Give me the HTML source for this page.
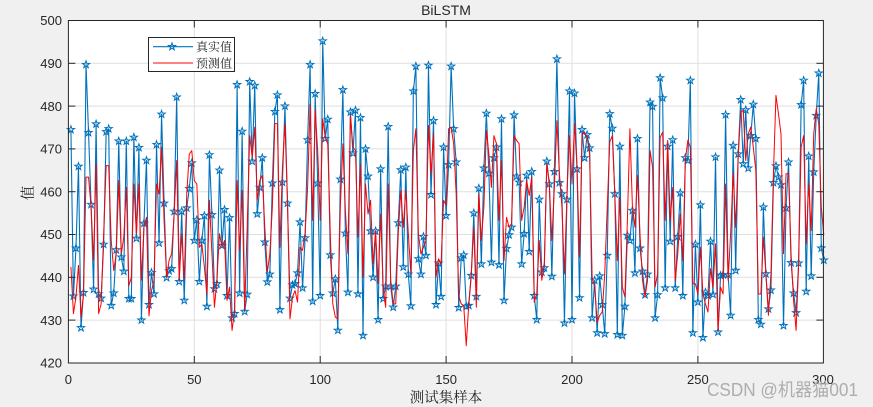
<!DOCTYPE html>
<html><head><meta charset="utf-8"><style>
html,body{margin:0;padding:0;background:#f0f0f0;}
svg{display:block;}
text{font-family:"Liberation Sans","Noto Sans CJK SC",sans-serif;fill:#262626;}
.cj{font-family:"Liberation Serif","Noto Serif CJK SC",serif;}
</style></head><body>
<svg id="s" width="873" height="407" viewBox="0 0 873 407" xmlns="http://www.w3.org/2000/svg">
<rect x="0" y="0" width="873" height="407" fill="#f0f0f0"/>
<rect x="68.4" y="20.5" width="755" height="342.5" fill="#ffffff"/>
<g stroke="#dfdfdf" stroke-width="1">
<line x1="194.3" y1="20.5" x2="194.3" y2="363"/>
<line x1="320.2" y1="20.5" x2="320.2" y2="363"/>
<line x1="446.1" y1="20.5" x2="446.1" y2="363"/>
<line x1="572" y1="20.5" x2="572" y2="363"/>
<line x1="697.9" y1="20.5" x2="697.9" y2="363"/>
<line x1="68.4" y1="63.3" x2="823.4" y2="63.3"/>
<line x1="68.4" y1="106.1" x2="823.4" y2="106.1"/>
<line x1="68.4" y1="148.9" x2="823.4" y2="148.9"/>
<line x1="68.4" y1="191.7" x2="823.4" y2="191.7"/>
<line x1="68.4" y1="234.5" x2="823.4" y2="234.5"/>
<line x1="68.4" y1="277.3" x2="823.4" y2="277.3"/>
<line x1="68.4" y1="320.1" x2="823.4" y2="320.1"/>
</g>
<g transform="matrix(2.518 0 0 -4.28 68.4 2160.5)">
<polyline id="tl" fill="none" stroke="#0072bd" stroke-width="1.1" vector-effect="non-scaling-stroke" stroke-linejoin="round" points="1,474.5 2,435.6 3,446.8 4,465.9 5,428.2 6,436.4 7,489.7 8,473.8 9,457 10,437.2 11,475.8 12,436.1 13,435.1 14,447.7 15,474 16,474.7 17,433.4 18,436.3 19,446.4 20,471.8 21,444.7 22,441.4 23,471.8 24,435 25,435 26,472.7 27,449.1 28,470.3 29,430 30,452.6 31,467.3 32,433.6 33,441.1 34,436.1 35,471 36,448 37,478.1 38,457.3 39,439.9 40,441.5 41,442 42,455.4 43,482.1 44,439 45,455.4 46,434.6 47,456.2 48,460.7 49,466.7 50,448.6 51,453.4 52,439 53,448.6 54,454.4 55,433.2 56,468.6 57,454.6 58,437.3 59,438.5 60,465 61,447.4 62,455.8 63,435.7 64,453.9 65,430.5 66,431.5 67,485 68,436.3 69,474.1 70,432 71,436 72,485.7 73,467.1 74,484.8 75,454.8 76,461 77,467.9 78,448.2 79,438.9 80,440.7 81,462 82,478.7 83,482.6 84,432.4 85,462.2 86,480 87,457.3 88,435.1 89,438.2 90,438.5 91,441 92,452.9 93,437.5 94,449.2 95,472.1 96,489.7 97,434.4 98,482.9 99,462 100,435.7 101,495.2 102,472.4 103,476.9 104,445.2 105,436.3 106,439.6 107,427.6 108,462.9 109,483.8 110,450.3 111,436.5 112,478.6 113,469 114,479 115,436.1 116,477.3 117,426.4 118,470 119,463.6 120,450.8 121,440 122,450.8 123,430.1 124,465.3 125,435 126,437.9 127,475.2 128,437.9 129,433 130,437.9 131,452.7 132,465.1 133,442.4 134,465.7 135,440.7 136,433.3 137,483.5 138,489.3 139,444.3 140,440.7 141,449.5 142,445.1 143,489.5 144,459.3 145,476.6 146,433.6 147,443.3 148,435.5 149,470.4 150,454.4 151,466.3 152,489.3 153,474.7 154,466.9 155,432.9 156,444.5 157,445.2 158,433.2 159,433.4 160,440.4 161,455 162,435.5 163,460.8 164,443.1 165,465.5 166,478.3 167,464.3 168,443.5 169,467.9 170,470.4 171,442.9 172,477 173,434.6 174,446.7 175,449.9 176,451.7 177,477.9 178,463.6 179,462.2 180,443.1 181,450.2 182,463.8 183,446 184,464.7 185,435.7 186,430.1 187,458.2 188,441.2 189,442.2 190,467.1 191,461.8 192,440.2 193,464.7 194,491 195,462.1 196,459.5 197,429.3 198,458.2 199,483.5 200,430.1 201,483 202,465.3 203,435.2 204,474.5 205,467.9 206,473.3 207,470.2 208,430.5 209,439.3 210,427 211,440.3 212,433.6 213,426.8 214,445.1 215,478.2 216,474.8 217,459.5 218,426.6 219,470.6 220,426.4 221,433.2 222,449.8 223,448.6 224,455.6 225,441 226,472.4 227,446.8 228,441.4 229,435.9 230,440.7 231,480.9 232,479.9 233,430.5 234,435.9 235,486.6 236,481.9 237,437.5 238,470.6 239,448.4 240,472.1 241,437.5 242,449.5 243,459.7 244,435.7 245,467.9 246,467.3 247,486 248,427 249,447.7 250,434.2 251,456.9 252,425.9 253,436.5 254,435.7 255,448.4 256,436 257,468.1 258,427.2 259,440.4 260,440.6 261,478 262,440.6 263,431.1 264,470.8 265,441.6 266,468.8 267,481.5 268,466.5 269,479.1 270,465.5 271,473.1 272,480.4 273,472.4 274,430.1 275,429 276,456.4 277,440.8 278,432.6 279,437 280,462.1 281,466 282,463.4 283,461.6 284,428.7 285,456.2 286,466.9 287,443.4 288,436.3 289,431.7 290,443.3 291,480.3 292,486 293,436.7 294,468.3 295,440.3 296,464.6 297,477.8 298,487.7 299,446.8 300,444"/>
</g>
<g id="mk" fill="none" stroke="#0072bd" stroke-width="1"></g>
<g transform="matrix(2.518 0 0 -4.28 68.4 2160.5)">
<polyline fill="none" stroke="#ff0000" stroke-width="1" vector-effect="non-scaling-stroke" stroke-linejoin="round" points="1,442.4 2,431.5 3,435.4 4,442.8 5,430.7 6,436 7,463.4 8,463.4 9,456.4 10,444 11,466.5 12,431.5 13,433.8 14,450 15,466.1 16,466.1 17,448.6 18,441.6 19,445.5 20,462.6 21,445.5 22,449.4 23,461 24,438 25,440 26,461.8 27,450.2 28,461.8 29,439.3 30,451.7 31,454 32,431 33,436.9 34,439.3 35,461.8 36,459.5 37,470.4 38,453.3 39,440 40,444 41,445.5 42,454.8 43,467.3 44,439.3 45,450.2 46,439.6 47,459.5 48,468.8 49,469.6 50,462.6 51,461.8 52,447 53,447.8 54,442.4 55,436.1 56,458 57,445.5 58,433 59,439.6 60,450.2 61,447 62,448.6 63,434.6 64,437.7 65,427.6 66,432.2 67,462.6 68,446.3 69,460.3 70,432.2 71,451.7 72,473.1 73,468.1 74,475.1 75,458 76,462.6 77,463.8 78,451.7 79,441.2 80,445.5 81,456.4 82,475.9 83,475.9 84,447 85,465.7 86,475.9 87,458 88,430.3 89,435.4 90,436.9 91,434.2 92,447 93,446.3 94,450.2 95,461 96,480.5 97,453.3 98,479 99,469.6 100,453.3 101,477 102,472.7 103,471.2 104,450.2 105,433.8 106,430.7 107,430.3 108,456.4 109,471.2 110,455.6 111,445.5 112,477.8 113,470.4 114,469.6 115,449.4 116,466.5 117,440 118,461.8 119,454.8 120,458 121,443.1 122,450.9 123,438.5 124,454.8 125,437.7 126,433 127,461.8 128,439.3 129,433.8 130,433.8 131,450.2 132,460.3 133,451.7 134,460.3 135,450.2 136,440.8 137,469.6 138,474.7 139,450.2 140,445.5 141,447 142,448.6 143,475.5 144,464.2 145,473.5 146,440 147,444.3 148,443.1 149,458 150,456.8 151,474.7 152,475.1 153,471.2 154,459.5 155,435.7 156,433.8 157,433.4 158,424 159,433.8 160,440.8 161,451.7 162,433 163,459.5 164,448.6 165,456.4 166,474.3 167,468.8 168,461 169,473.1 170,471.2 171,453.3 172,467.3 173,443.9 174,454 175,451.7 176,452.5 177,473.1 178,472 179,471.2 180,453.3 181,456.4 182,462.6 183,459.1 184,463.4 185,434.2 186,436.1 187,448.6 188,439.3 189,443.1 190,466.5 191,461.8 192,448.6 193,461 194,476.6 195,464.2 196,456.4 197,440.8 198,459.5 199,473.1 200,461.8 201,475.9 202,465.7 203,444.7 204,473.5 205,473.9 206,472.7 207,468.8 208,440 209,437.7 210,429.5 211,431.1 212,431.9 213,440.8 214,456.4 215,471.6 216,473.1 217,459.5 218,443.9 219,458.7 220,437.7 221,435.4 222,453.3 223,474.7 224,456.4 225,451.7 226,463.8 227,450.2 228,439.3 229,435.4 230,439.3 231,469.6 232,465.7 233,437.7 234,440.8 235,472.7 236,473.9 237,453.3 238,472 239,453.3 240,461 241,439.3 242,445.5 243,454.8 244,443.9 245,467.3 246,472 247,470.4 248,438.5 249,438.5 250,436.1 251,447 252,436.1 253,433.8 254,431.9 255,442 256,437.7 257,447.8 258,427.6 259,437.7 260,436.1 261,461.8 262,439.3 263,450.2 264,464.2 265,451.7 266,468.1 267,478.6 268,479 269,467.3 270,473.5 271,475.1 272,470.4 273,465 274,436.1 275,436.1 276,449.4 277,440.8 278,431.1 279,440.8 280,464.2 281,482.5 282,478.2 283,473.5 284,445.5 285,464.2 286,464.2 287,445.5 288,434.6 289,427.6 290,443.1 291,470.4 292,473.1 293,447.8 294,461.8 295,450.9 296,473.5 297,479.4 298,475.9 299,456.4 300,449.8"/>
</g>
<rect x="68.4" y="20.5" width="755" height="342.5" fill="none" stroke="#262626" stroke-width="1"/>
<g stroke="#262626" stroke-width="1">
<line x1="194.3" y1="363" x2="194.3" y2="356"/><line x1="320.2" y1="363" x2="320.2" y2="356"/><line x1="446.1" y1="363" x2="446.1" y2="356"/><line x1="572" y1="363" x2="572" y2="356"/><line x1="697.9" y1="363" x2="697.9" y2="356"/>
<line x1="194.3" y1="20.5" x2="194.3" y2="27.5"/><line x1="320.2" y1="20.5" x2="320.2" y2="27.5"/><line x1="446.1" y1="20.5" x2="446.1" y2="27.5"/><line x1="572" y1="20.5" x2="572" y2="27.5"/><line x1="697.9" y1="20.5" x2="697.9" y2="27.5"/>
<line x1="68.4" y1="63.3" x2="75.4" y2="63.3"/><line x1="68.4" y1="106.1" x2="75.4" y2="106.1"/><line x1="68.4" y1="148.9" x2="75.4" y2="148.9"/><line x1="68.4" y1="191.7" x2="75.4" y2="191.7"/><line x1="68.4" y1="234.5" x2="75.4" y2="234.5"/><line x1="68.4" y1="277.3" x2="75.4" y2="277.3"/><line x1="68.4" y1="320.1" x2="75.4" y2="320.1"/>
<line x1="823.4" y1="63.3" x2="816.4" y2="63.3"/><line x1="823.4" y1="106.1" x2="816.4" y2="106.1"/><line x1="823.4" y1="148.9" x2="816.4" y2="148.9"/><line x1="823.4" y1="191.7" x2="816.4" y2="191.7"/><line x1="823.4" y1="234.5" x2="816.4" y2="234.5"/><line x1="823.4" y1="277.3" x2="816.4" y2="277.3"/><line x1="823.4" y1="320.1" x2="816.4" y2="320.1"/>
</g>
<g font-size="13" text-anchor="end">
<text x="62" y="25">500</text><text x="62" y="68">490</text><text x="62" y="111">480</text><text x="62" y="153.5">470</text><text x="62" y="196.5">460</text><text x="62" y="239">450</text><text x="62" y="282">440</text><text x="62" y="325">430</text><text x="62" y="367.5">420</text>
</g>
<g font-size="13" text-anchor="middle">
<text x="68.4" y="384">0</text><text x="194.3" y="384">50</text><text x="320.2" y="384">100</text><text x="446.1" y="384">150</text><text x="572" y="384">200</text><text x="697.9" y="384">250</text><text x="823" y="384">300</text>
</g>
<text x="446" y="15" font-size="14" text-anchor="middle">BiLSTM</text>
<text class="cj" x="446" y="402.5" font-size="14.5" text-anchor="middle">测试集样本</text>
<text class="cj" x="0" y="0" font-size="14.5" text-anchor="middle" transform="translate(33,193) rotate(-90)">值</text>
<rect x="148.5" y="37.5" width="86" height="34" fill="#ffffff" stroke="#262626" stroke-width="1"/>
<line x1="153" y1="46.7" x2="193" y2="46.7" stroke="#0072bd" stroke-width="1.1"/>
<path id="lgs" fill="none" stroke="#0072bd" stroke-width="1" d=""/>
<line x1="153" y1="63" x2="193" y2="63" stroke="#ff0000" stroke-width="1"/>
<text class="cj" x="196" y="51" font-size="12">真实值</text>
<text class="cj" x="196" y="67.5" font-size="12">预测值</text>
<text x="707" y="396" font-size="18" textLength="151" lengthAdjust="spacingAndGlyphs" style="fill:#adadad">CSDN @机器猫001</text>
</svg>
<script>
(function(){
var NS="http://www.w3.org/2000/svg";
function star(cx,cy,R){var d="";for(var k=0;k<10;k++){var a=(-90+k*36)*Math.PI/180;var r=(k%2==0)?R:R*0.4;d+=(k==0?"M":"L")+(cx+r*Math.cos(a)).toFixed(2)+","+(cy+r*Math.sin(a)).toFixed(2);}return d+"Z";}
var pts=document.getElementById("tl").getAttribute("points").trim().split(/\s+/);
var g=document.getElementById("mk");var d="";
for(var i=0;i<pts.length;i++){var p=pts[i].split(",");var x=68.4+2.518*parseFloat(p[0]);var y=2160.5-4.28*parseFloat(p[1]);d+=star(x,y,3.8);}
var path=document.createElementNS(NS,"path");path.setAttribute("d",d);g.appendChild(path);
document.getElementById("lgs").setAttribute("d",star(172,46.7,3.8));
})();
</script>
</body></html>
